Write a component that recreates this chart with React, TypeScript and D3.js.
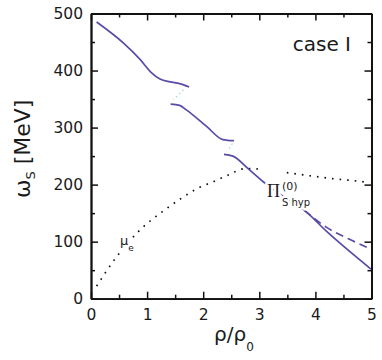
import { useRef, useEffect } from 'react'
import * as d3 from 'd3'

// axis ticks
const xMajor = [0, 1, 2, 3, 4, 5]
const xMinor = [0.5, 1.5, 2.5, 3.5, 4.5]
const yMajor = [0, 100, 200, 300, 400, 500]
const yMinor = [50, 150, 250, 350, 450]

// [rho/rho0, omega_S in MeV]
const branch1 = [[0.1, 485], [0.58, 448], [0.87, 420], [1.08, 396], [1.23, 385], [1.41, 380], [1.58, 377], [1.75, 371]]
const branch2 = [[1.42, 341], [1.58, 339], [1.7, 331], [2.06, 302], [2.35, 279], [2.55, 277]]
const branch3 = [[2.37, 253], [2.53, 250], [2.8, 228], [3.07, 205], [3.43, 179], [3.78, 157], [4.2, 118], [4.99, 52]]
const hypDashed = [[3.8, 155], [4.2, 125], [4.59, 105], [4.99, 87]]
const link1 = [[1.65, 366], [1.47, 349]]
const link2 = [[2.52, 272], [2.44, 259]]
const muA = [[0.1, 22], [0.46, 74], [0.9, 123], [1.32, 156], [1.58, 174], [1.91, 194], [2.18, 205], [2.45, 217], [2.74, 228], [3.07, 227]]
const muB = [[3.49, 221], [4.26, 211], [4.91, 204], [4.97, 203]]

const W = 382, H = 360
const PURPLE = '#5a4ba6'

const App = () => {
  const ref = useRef(null)

  useEffect(() => {
    const svg = d3.select(ref.current)
    svg.selectAll('*').remove()

    const x = d3.scaleLinear().domain([0, 5]).range([91, 371.5])
    const y = d3.scaleLinear().domain([0, 500]).range([298.7, 13.5])

    const line = d3.line().x(d => x(d[0])).y(d => y(d[1]))
    const smooth = d3.line().x(d => x(d[0])).y(d => y(d[1])).curve(d3.curveMonotoneX)

    const plot = svg.append('g')

    // faint connectors between branches
    ;[link1, link2].forEach(d => {
      plot.append('path').datum(d).attr('d', line)
        .attr('fill', 'none').attr('stroke', '#9fdccc').attr('stroke-width', 1.2)
        .attr('stroke-dasharray', '1.5,3')
    })

    // mu_e dotted
    ;[muA, muB].forEach(d => {
      plot.append('path').datum(d).attr('d', smooth)
        .attr('fill', 'none').attr('stroke', '#111').attr('stroke-width', 1.7)
        .attr('stroke-dasharray', '1.6,6').attr('stroke-linecap', 'butt')
    })

    ;[branch1, branch2, branch3].forEach(d => {
      plot.append('path').datum(d).attr('d', smooth)
        .attr('fill', 'none').attr('stroke', PURPLE).attr('stroke-width', 1.7)
    })

    plot.append('path').datum(hypDashed).attr('d', smooth)
      .attr('fill', 'none').attr('stroke', PURPLE).attr('stroke-width', 1.7)
      .attr('stroke-dasharray', '8,5')

    // labels with white knockout
    const halo = sel => sel.attr('paint-order', 'stroke').attr('stroke', 'white')
      .attr('stroke-width', 5).attr('stroke-linejoin', 'round')

    const lab = svg.append('g').attr('font-family', 'DejaVu Sans, sans-serif').attr('fill', '#1a1a1a')

    const mu = lab.append('text').attr('x', 120).attr('y', 245).attr('font-size', 13).call(halo)
    mu.append('tspan').text('μ')
    mu.append('tspan').attr('dy', 6).attr('font-size', 9).text('e')

    lab.append('text').attr('x', 267).attr('y', 196.5)
      .attr('font-family', 'Liberation Serif, serif').attr('font-size', 18).call(halo).text('Π')
    lab.append('text').attr('x', 282).attr('y', 190).attr('font-size', 11).call(halo).text('(0)')
    lab.append('text').attr('x', 282).attr('y', 206).attr('font-size', 10).call(halo).text('S hyp')

    lab.append('text').attr('x', 351).attr('y', 50.5).attr('text-anchor', 'end')
      .attr('font-size', 20).text('case I')

    // axes
    const ax = svg.append('g').attr('font-family', 'DejaVu Sans, sans-serif')

    const bottom = ax.append('g').attr('transform', `translate(0,${y(0)})`)
    bottom.call(d3.axisBottom(x).tickValues(xMajor).tickSize(-7).tickSizeOuter(0).tickPadding(10).tickFormat(d3.format('d')))
    bottom.append('g').call(d3.axisBottom(x).tickValues(xMinor).tickSize(-4).tickSizeOuter(0).tickFormat(() => ''))

    const top = ax.append('g').attr('transform', `translate(0,${y(500)})`)
    top.call(d3.axisTop(x).tickValues(xMajor).tickSize(-7).tickSizeOuter(0).tickFormat(() => ''))
    top.append('g').call(d3.axisTop(x).tickValues(xMinor).tickSize(-4).tickSizeOuter(0).tickFormat(() => ''))

    const left = ax.append('g').attr('transform', `translate(${x(0)},0)`)
    left.call(d3.axisLeft(y).tickValues(yMajor).tickSize(-7).tickSizeOuter(0).tickPadding(8).tickFormat(d3.format('d')))
    left.append('g').call(d3.axisLeft(y).tickValues(yMinor).tickSize(-4).tickSizeOuter(0).tickFormat(() => ''))

    const right = ax.append('g').attr('transform', `translate(${x(5)},0)`)
    right.call(d3.axisRight(y).tickValues(yMajor).tickSize(-7).tickSizeOuter(0).tickFormat(() => ''))
    right.append('g').call(d3.axisRight(y).tickValues(yMinor).tickSize(-4).tickSizeOuter(0).tickFormat(() => ''))

    ax.selectAll('.domain').attr('stroke', '#111').attr('stroke-width', 1.8)
    ax.selectAll('.tick line').attr('stroke', '#111').attr('stroke-width', 1.5)
    ax.selectAll('.tick text').attr('font-size', 15.5).attr('fill', '#1a1a1a')
      .attr('font-family', 'DejaVu Sans, sans-serif')

    // axis titles
    const xt = svg.append('text').attr('x', 214).attr('y', 341)
      .attr('font-family', 'DejaVu Sans, sans-serif').attr('font-size', 20).attr('fill', '#1a1a1a')
    xt.append('tspan').text('ρ/ρ')
    xt.append('tspan').attr('dy', 10).attr('font-size', 12).text('0')

    const yt = svg.append('text').attr('transform', 'translate(30,198) rotate(-90)')
      .attr('font-family', 'DejaVu Sans, sans-serif').attr('font-size', 22).attr('fill', '#1a1a1a')
    yt.append('tspan').text('ω')
    yt.append('tspan').attr('dy', 5).attr('font-size', 13).text('S')
    yt.append('tspan').attr('dy', -5).text(' [MeV]')
  }, [])

  return (
    <svg ref={ ref } width={ W } height={ H }
      style={ { position: 'absolute', left: 0, top: 0, background: 'white' } } />
  )
}

export default App
